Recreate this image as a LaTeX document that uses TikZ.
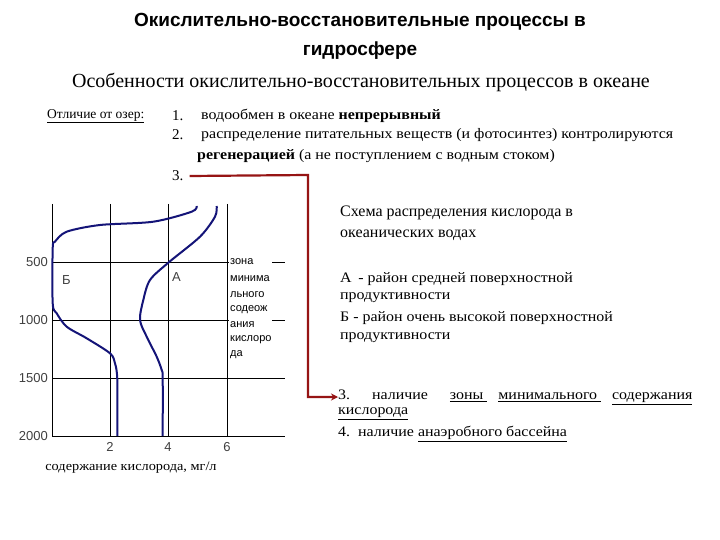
\documentclass[tikz,border=0pt]{standalone}
\usepackage{graphicx}
\usepackage{fontspec}
\setmainfont{Liberation Serif}
\newfontfamily\sansf{Liberation Sans}
\usetikzlibrary{arrows.meta}
\definecolor{curve}{RGB}{20,20,120}
\definecolor{darkred}{RGB}{150,20,20}
\newcommand{\wide}[1]{\scalebox{1.1}[1]{#1}}
\begin{document}
\begin{tikzpicture}[x=1pt,y=-1pt,
  txt/.style={anchor=west,inner sep=0,font=\fontsize{14.5}{17}\selectfont},
  ax/.style={inner sep=0,font=\sansf\fontsize{13}{15}\selectfont,text=black!75},
  zone/.style={anchor=west,inner sep=0,font=\sansf\fontsize{11}{13}\selectfont},
  grid/.style={line width=1pt},
  crv/.style={curve,line width=2pt,line join=round}]
\useasboundingbox (0,0) rectangle (720,540);
\fill[white] (0,0) rectangle (720,540);
% titles
\node (t1) at (360,22) {\sansf\bfseries\fontsize{19}{22}\selectfont Окислительно-восстановительные процессы в};
\node (t2) at (360,51) {\sansf\bfseries\fontsize{19}{22}\selectfont гидросфере};
\node (t3) at (361,82) {\fontsize{20}{24}\selectfont Особенности окислительно-восстановительных процессов в океане};
% list
\node[txt,font=\fontsize{13.5}{16}\selectfont] (l0) at (47,116) {\underline{Отличие от озер:}};
\node[txt,font=\fontsize{15}{17}\selectfont] (n1) at (172,116) {1.};
\node[txt] (i1) at (201,116) {\wide{водообмен в океане \textbf{непрерывный}}};
\node[txt,font=\fontsize{15}{17}\selectfont] (n2) at (172,135) {2.};
\node[txt] (i2) at (201,135) {\wide{распределение питательных веществ (и фотосинтез) контролируются}};
\node[txt] (i2b) at (197,156) {\wide{\textbf{регенерацией} (а не поступлением с водным стоком)}};
\node[txt,font=\fontsize{15}{17}\selectfont] (n3) at (172,176) {3.};
% chart grid
\foreach \y in {262,320,378} \draw[grid] (52,\y) -- (285,\y);
\draw[grid] (52,204) -- (52,436) -- (285,436);
\foreach \x in {110,168,227} \draw[grid] (\x,204) -- (\x,436);
\node[ax,anchor=east] (d5) at (48,262) {500};
\node[ax,anchor=east] (d10) at (48,320) {1000};
\node[ax,anchor=east] (d15) at (48,378) {1500};
\node[ax,anchor=east] (d20) at (48,436) {2000};
\node[ax] (x2) at (110,447) {2};
\node[ax] (x4) at (168,447) {4};
\node[ax] (x6) at (227,447) {6};
\node[inner sep=0,font=\fontsize{13}{15}\selectfont] (cap) at (131,468) {\wide{содержание кислорода, мг/л}};
\node[ax,anchor=west] (lb) at (62,280) {Б};
\node[ax,anchor=west] (la) at (172,277) {А};
\fill[white] (229,255) rectangle (272,362);
\foreach \t/\y in {зона/262,минима/279,льного/295,содеож/310,ания/325,кислоро/340,да/355}
  \node[zone] at (230,\y) {\t};
% curves
\draw[crv] plot[smooth,tension=0.5] coordinates {(196.7,206) (191.7,211.7) (153.3,221.7) (100,225) (66.7,231.7) (55,241.7) (52.7,248.3) (52.7,303.3) (56.7,313.3) (66.7,326.7) (86.7,338.3) (110,353.3) (115,363.3) (117.3,380) (117.3,436)};
\draw[crv] plot[smooth,tension=0.5] coordinates {(216.7,206) (215,216.7) (200,236.7) (168.3,262.7) (150,280) (143.3,300) (140,320) (146.7,336.7) (156.7,356.7) (161.7,370) (162.7,378.3) (162.7,436)};
% right text
\node[txt,font=\fontsize{16}{19}\selectfont] (s1) at (340,213) {Схема распределения кислорода в};
\node[txt,font=\fontsize{16}{19}\selectfont] (s2) at (340,235) {океанических водах};
\node[txt] (a1) at (340,279) {\wide{А\, - район средней поверхностной}};
\node[txt] (a2) at (340,298) {\wide{продуктивности}};
\node[txt] (b1) at (340,318) {\wide{Б - район очень высокой поверхностной}};
\node[txt] (b2) at (340,338) {\wide{продуктивности}};
\node[txt] (p3) at (338,397) {\wide{\makebox[322pt][s]{3.\ \ наличие \ \underline{зоны\ } \underline{минимального\ } \underline{содержания}}}};
\node[txt] (p3b) at (338,414) {\wide{\underline{кислорода}}};
\node[txt] (p4) at (338,434) {\wide{4.\ \ наличие \underline{анаэробного бассейна}}};
% connector
\coordinate (c1) at (308,175);
\coordinate (c2) at (308,397);
\draw[darkred,line width=2.2pt,-{Stealth[length=7pt,width=7pt]}] ([xshift=6pt]n3.east) -- (c1) -- (c2) -- (p3.west);
\end{tikzpicture}
\end{document}
